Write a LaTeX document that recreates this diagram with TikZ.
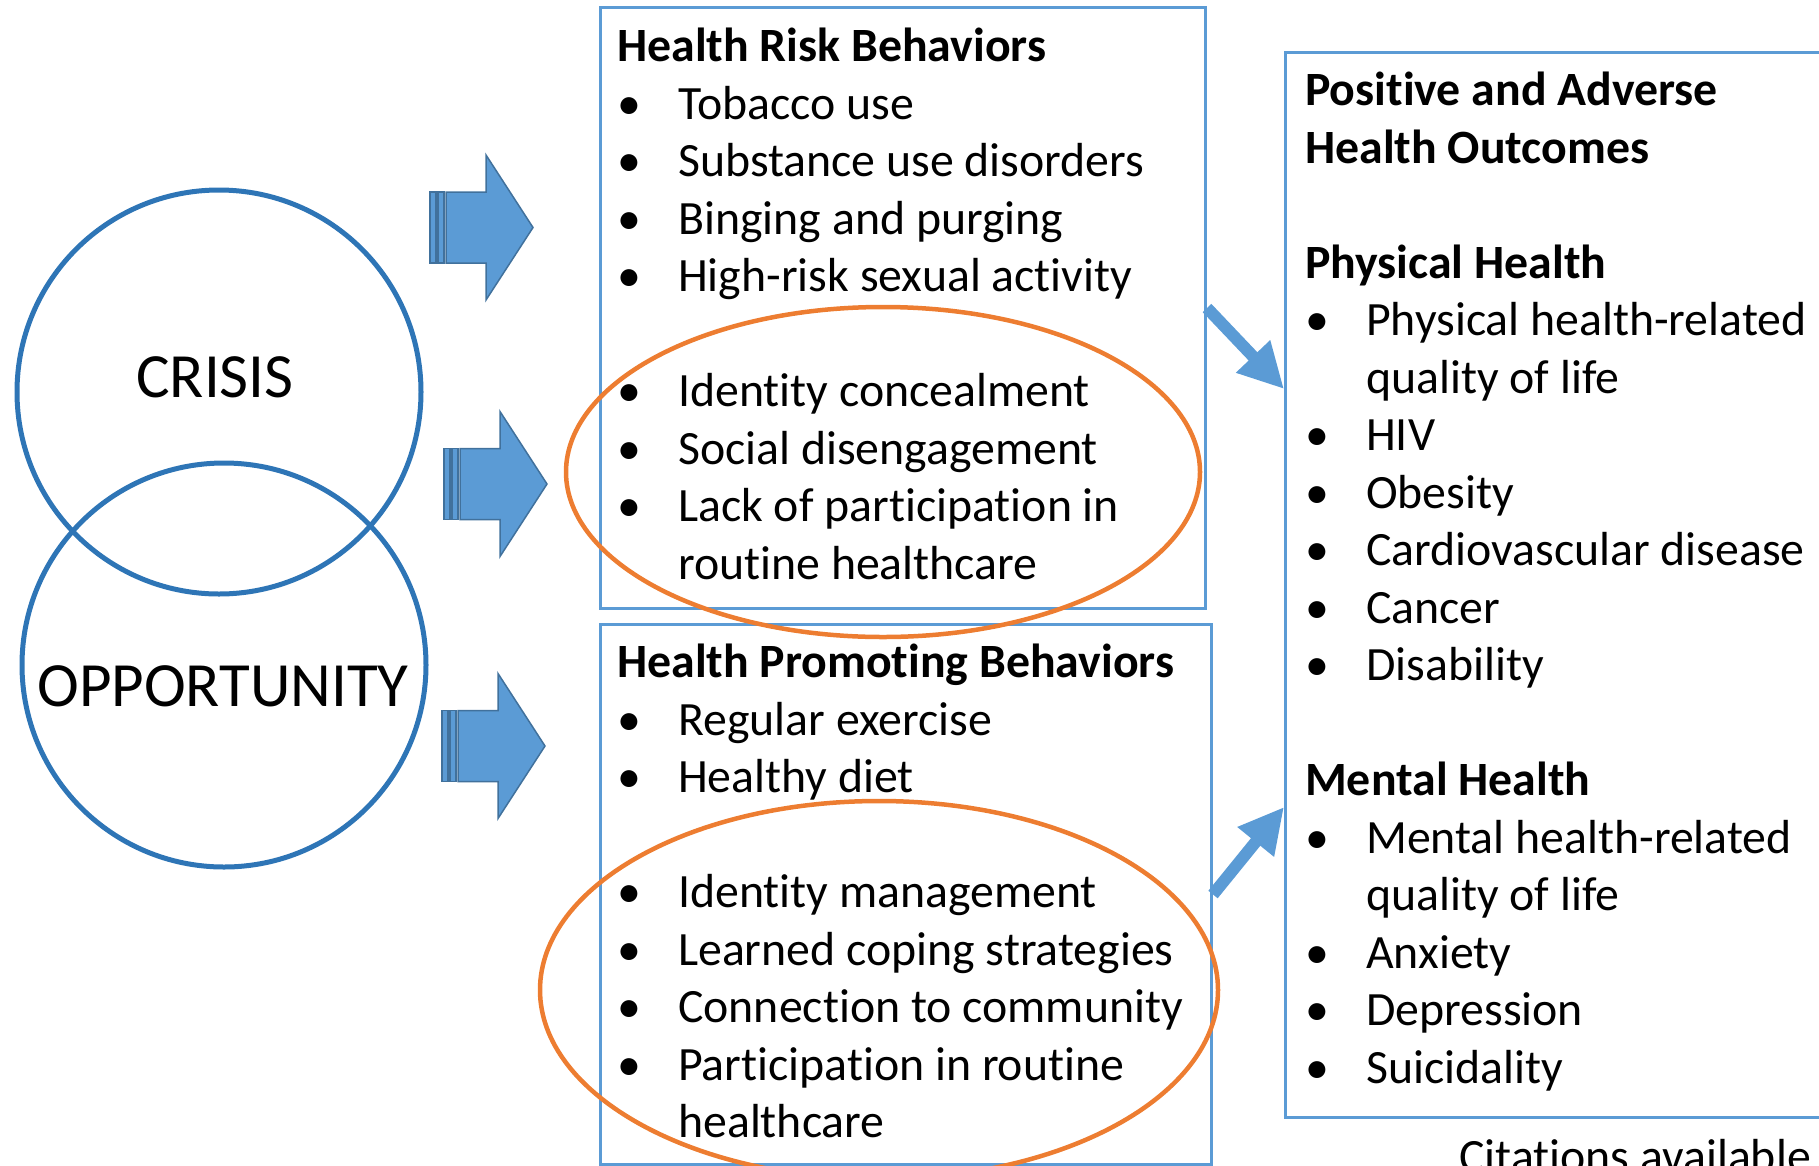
\documentclass[tikz,border=0pt]{standalone}
\usepackage{fontspec}
\setmainfont{Carlito}[Ligatures=NoCommon]
\usetikzlibrary{arrows.meta,positioning,shapes.geometric}
\definecolor{boxblue}{HTML}{5B9BD5}
\definecolor{ringblue}{HTML}{2E75B6}
\definecolor{edgeblue}{HTML}{41719C}
\definecolor{ovalorange}{HTML}{ED7D31}
\newcommand{\itm}{\makebox[61pt][l]{\textbullet}}
\newcommand{\cont}{\hspace*{61pt}}
\tikzset{
    %Define style for boxes
    panel/.style={
           rectangle,
           draw=boxblue, line width=3pt,
           inner sep=0pt,
           anchor=north west},
    ring/.style={
           circle,
           draw=ringblue, line width=5pt,
           inner sep=0pt,
           minimum size=404pt},
    ringtext/.style={
           font=\fontsize{63}{70}\selectfont},
    oval/.style={
           ellipse,
           draw=ovalorange, line width=4.5pt,
           inner sep=0pt},
    listtext/.style={
           align=left,
           inner sep=0pt,
           anchor=north west,
           font=\fontsize{47.8}{57.5}\selectfont},
    % Define arrow style
    fatarr/.style={
           -{Triangle[width=44pt,length=45pt]},
           line width=12pt,
           draw=boxblue},
    blockfill/.style={
           fill=boxblue,
           draw=edgeblue,
           line width=1.5pt},
    blockarr/.pic={
      \draw[blockfill] (16,-35.5) -- (56,-35.5) -- (56,-72.5) -- (103,0)
        -- (56,72.5) -- (56,35.5) -- (16,35.5) -- cycle;
      \draw[blockfill] (0,-35.5) rectangle (6,35.5);
      \draw[blockfill] (8,-35.5) rectangle (14,35.5);
    }
}

\begin{document}
\begin{tikzpicture}[x=1pt,y=-1pt]
  \clip (0,0) rectangle (1819,1165);

  % circles
  \node[ring] (crisis) at (219,392) {};
  \node[ring] (opportunity) at (224,665) {};
  \node[ringtext] (crisislabel) at (215,377) {CRISIS};
  \node[ringtext] (opplabel) at (223,686) {OPPORTUNITY};

  % block arrows
  \pic at (430,227.5) {blockarr};
  \pic at (444,484) {blockarr};
  \pic at (442,746) {blockarr};

  % boxes
  \node[panel, minimum width=605, minimum height=601] (risk) at (599,6) {};
  \node[panel, minimum width=611, minimum height=540] (promo) at (599,623) {};
  \node[panel, minimum width=600, minimum height=1065] (outcomes) at (1284,51) {};

  % orange ovals
  \node[oval, minimum width=634, minimum height=330] (riskoval) at (883,472) {};
  \node[oval, minimum width=678, minimum height=378] (promooval) at (879,990) {};

  % lists
  \node[listtext] (risktext) at (617,28) {
    \textbf{Health Risk Behaviors}\\
    \itm Tobacco use\\
    \itm Substance use disorders\\
    \itm Binging and purging\\
    \itm High-risk sexual activity\\
    \mbox{}\\
    \itm Identity concealment\\
    \itm Social disengagement\\
    \itm Lack of participation in\\
    \cont routine healthcare};

  \node[listtext] (promotext) at (617,644) {
    \textbf{Health Promoting Behaviors}\\
    \itm Regular exercise\\
    \itm Healthy diet\\
    \mbox{}\\
    \itm Identity management\\
    \itm Learned coping strategies\\
    \itm Connection to community\\
    \itm Participation in routine\\
    \cont healthcare};

  \node[listtext] (outcometext) at (1305,72) {
    \textbf{Positive and Adverse}\\
    \textbf{Health Outcomes}\\
    \mbox{}\\
    \textbf{Physical Health}\\
    \itm Physical health-related\\
    \cont quality of life\\
    \itm HIV\\
    \itm Obesity\\
    \itm Cardiovascular disease\\
    \itm Cancer\\
    \itm Disability\\
    \mbox{}\\
    \textbf{Mental Health}\\
    \itm Mental health-related\\
    \cont quality of life\\
    \itm Anxiety\\
    \itm Depression\\
    \itm Suicidality};

  \node[anchor=base west, inner sep=0pt, font=\fontsize{47.8}{57.5}\selectfont]
    (cite) at (1459,1172) {Citations available};

  % arrows to outcomes
  \draw[fatarr] (risk.east) -- ([yshift=196pt]outcomes.west);
  \draw[fatarr] (promo.east) -- ([yshift=-222pt]outcomes.west);
\end{tikzpicture}
\end{document}
